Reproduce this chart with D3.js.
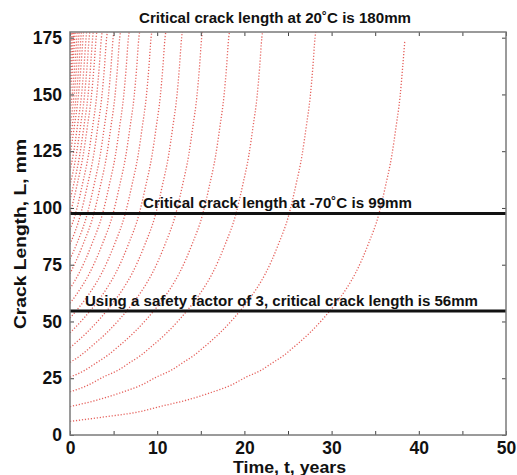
<!DOCTYPE html>
<html lang="en">
<head>
<meta charset="UTF-8">
<title>Crack growth</title>
<script src="https://cdnjs.cloudflare.com/ajax/libs/d3/7.8.5/d3.min.js"></script>
<style>
  body { margin: 0; background: #fff; }
  svg text { font-family: "Liberation Sans", Arial, sans-serif; font-weight: bold; fill: #111; }
</style>
</head>
<body>
<svg width="517" height="475"></svg>
<script>
// crack length (mm) vs time (years), one list of [t, L] per initial crack size
const crackCurves = [
  [[0,6],[4,8],[8,10.3],[10.3,12.5],[13.5,15.5],[16.4,19],[18.5,22],[20.2,25.5],[21.9,28.5],[23.3,32],[24.5,35],[25.6,38.5],[27.5,45],[29.1,51.5],[30.5,58],[31.7,64.5],[32.7,71],[34.2,84],[35.4,97],[36.2,110],[36.9,123],[37.4,136],[37.85,149],[38.15,162],[38.4,174]],
  [[0,12.5],[3.2,15.5],[6.1,19],[8.2,22],[9.9,25.5],[11.6,28.5],[13,32],[14.2,35],[15.3,38.5],[17.2,45],[18.8,51.5],[20.2,58],[21.4,64.5],[22.4,71],[23.9,84],[25.1,97],[25.9,110],[26.6,123],[27.1,136],[27.55,149],[27.85,162],[28.1,175],[28.2,178]],
  [[0,19],[2.1,22],[3.8,25.5],[5.5,28.5],[6.9,32],[8.1,35],[9.2,38.5],[11.1,45],[12.7,51.5],[14.1,58],[15.3,64.5],[16.3,71],[17.8,84],[19,97],[19.8,110],[20.5,123],[21,136],[21.45,149],[21.75,162],[22,175],[22.1,178]],
  [[0,25.5],[1.7,28.5],[3.1,32],[4.3,35],[5.4,38.5],[7.3,45],[8.9,51.5],[10.3,58],[11.5,64.5],[12.5,71],[14,84],[15.2,97],[16,110],[16.7,123],[17.2,136],[17.65,149],[17.95,162],[18.2,175],[18.3,178]],
  [[0,32],[1.2,35],[2.3,38.5],[4.2,45],[5.8,51.5],[7.2,58],[8.4,64.5],[9.4,71],[10.9,84],[12.1,97],[12.9,110],[13.6,123],[14.1,136],[14.55,149],[14.85,162],[15.1,175],[15.2,178]],
  [[0,38.5],[1.9,45],[3.5,51.5],[4.9,58],[6.1,64.5],[7.1,71],[8.6,84],[9.8,97],[10.6,110],[11.3,123],[11.8,136],[12.25,149],[12.55,162],[12.8,175],[12.9,178]],
  [[0,45],[1.6,51.5],[3,58],[4.2,64.5],[5.2,71],[6.7,84],[7.9,97],[8.7,110],[9.4,123],[9.9,136],[10.35,149],[10.65,162],[10.9,175],[11,178]],
  [[0,51.5],[1.4,58],[2.6,64.5],[3.6,71],[5.1,84],[6.3,97],[7.1,110],[7.8,123],[8.3,136],[8.75,149],[9.05,162],[9.3,175],[9.4,178]],
  [[0,58],[1.2,64.5],[2.2,71],[3.7,84],[4.9,97],[5.7,110],[6.4,123],[6.9,136],[7.35,149],[7.65,162],[7.9,175],[8,178]],
  [[0,64.5],[1,71],[2.5,84],[3.7,97],[4.5,110],[5.2,123],[5.7,136],[6.15,149],[6.45,162],[6.7,175],[6.8,178]],
  [[0,71],[1.5,84],[2.7,97],[3.5,110],[4.2,123],[4.7,136],[5.15,149],[5.45,162],[5.7,175],[5.8,178]],
  [[0,77.5],[0.75,84],[1.95,97],[2.75,110],[3.45,123],[3.95,136],[4.4,149],[4.7,162],[4.95,175],[5.05,178]],
  [[0,84],[1.2,97],[2,110],[2.7,123],[3.2,136],[3.65,149],[3.95,162],[4.2,175],[4.3,178]],
  [[0,90.5],[0.6,97],[1.4,110],[2.1,123],[2.6,136],[3.05,149],[3.35,162],[3.6,175],[3.7,178]],
  [[0,97],[0.8,110],[1.5,123],[2,136],[2.45,149],[2.75,162],[3,175],[3.08,178]],
  [[0,103.5],[0.4,110],[1.1,123],[1.6,136],[2.05,149],[2.35,162],[2.6,175],[2.68,178]],
  [[0,110],[0.7,123],[1.2,136],[1.65,149],[1.95,162],[2.2,175],[2.28,178]],
  [[0,116.5],[0.35,123],[0.85,136],[1.3,149],[1.6,162],[1.85,175],[1.92,178]],
  [[0,123],[0.5,136],[0.95,149],[1.25,162],[1.5,175],[1.57,178]],
  [[0,129.5],[0.25,136],[0.7,149],[1,162],[1.25,175],[1.31,178]],
  [[0,136],[0.45,149],[0.75,162],[1,175],[1.06,178]],
  [[0,142.5],[0.23,149],[0.53,162],[0.78,175],[0.84,178]],
  [[0,149],[0.3,162],[0.55,175],[0.6,178]],
  [[0,155.5],[0.15,162],[0.4,175],[0.45,178]],
  [[0,162],[0.25,175],[0.3,178]],
  [[0,168.5],[0.12,175],[0.17,178]]
];

// horizontal critical-length lines, read where they sit on the y axis
const limitLevels = [97.6, 54.6];
const limitLabels = [
  "Critical crack length at -70˚C is 99mm",
  "Using a safety factor of 3, critical crack length is 56mm"
];
const xTicks = [0, 5, 10, 15, 20, 25, 30, 35, 40, 45, 50];
const yTicks = [0, 25, 50, 75, 100, 125, 150, 175];
const chartTitle = "Critical crack length at 20˚C is 180mm";

const pLeft = 70, pRight = 506, pTop = 32, pBottom = 435;
const x = d3.scaleLinear().domain([0, 50]).range([pLeft, pRight]);
const y = d3.scaleLinear().domain([0, 177.5]).range([pBottom, pTop]);

const svg = d3.select('svg');
svg.append('rect').attr('width', 517).attr('height', 475).attr('fill', '#fff');

svg.append('clipPath').attr('id', 'plot')
  .append('rect').attr('x', pLeft).attr('y', pTop)
  .attr('width', pRight - pLeft).attr('height', pBottom - pTop);

const line = d3.line()
  .x(d => x(d[0]))
  .y(d => y(d[1]))
  .curve(d3.curveMonotoneX);

svg.append('g').attr('clip-path', 'url(#plot)')
  .selectAll('path')
  .data(crackCurves)
  .join('path')
  .attr('d', line)
  .attr('fill', 'none')
  .attr('stroke', '#e0453f')
  .attr('stroke-width', 1.3)
  .attr('stroke-dasharray', '1.2 1.8')
  .attr('opacity', 0.85);

// critical length lines
svg.selectAll('line.limit')
  .data(limitLevels)
  .join('line')
  .attr('class', 'limit')
  .attr('x1', pLeft).attr('x2', pRight)
  .attr('y1', d => y(d)).attr('y2', d => y(d))
  .attr('stroke', '#111')
  .attr('stroke-width', 3);

// label text widths stretched to the reference widths
svg.selectAll('text.limit')
  .data(limitLevels)
  .join('text')
  .attr('class', 'limit')
  .attr('x', (d, i) => i == 0 ? 143 : 85)
  .attr('y', d => y(d) - 5)
  .attr('textLength', (d, i) => i == 0 ? 269 : 393)
  .attr('lengthAdjust', 'spacingAndGlyphs')
  .style('font-size', '14.5px')
  .text((d, i) => limitLabels[i]);

// axes, ticks point inwards
const axisColor = '#7a7a7a';
const gx = svg.append('g').attr('transform', `translate(0,${pBottom})`)
  .call(d3.axisBottom(x).tickValues(xTicks).tickSize(-4).tickPadding(7)
    .tickFormat(d => d % 10 == 0 ? d : ''));
const gxTop = svg.append('g').attr('transform', `translate(0,${pTop})`)
  .call(d3.axisTop(x).tickValues(xTicks).tickSize(-4).tickFormat(''));
const gy = svg.append('g').attr('transform', `translate(${pLeft},0)`)
  .call(d3.axisLeft(y).tickValues(yTicks).tickSize(-4).tickPadding(8));
const gyRight = svg.append('g').attr('transform', `translate(${pRight},0)`)
  .call(d3.axisRight(y).tickValues(yTicks).tickSize(-4).tickFormat(''));

[gx, gxTop, gy, gyRight].forEach(g => {
  g.select('.domain').remove();
  g.selectAll('.tick line').attr('stroke', '#444');
  g.selectAll('.tick text').style('font-size', '17.5px').attr('fill', '#111');
});

svg.append('rect')
  .attr('x', pLeft).attr('y', pTop)
  .attr('width', pRight - pLeft).attr('height', pBottom - pTop)
  .attr('fill', 'none')
  .attr('stroke', axisColor)
  .attr('stroke-width', 1.5);

svg.append('text')
  .attr('x', 139).attr('y', 23)
  .attr('textLength', 272)
  .attr('lengthAdjust', 'spacingAndGlyphs')
  .style('font-size', '14px')
  .text(chartTitle);

svg.append('text')
  .attr('x', 233).attr('y', 473)
  .attr('textLength', 113)
  .attr('lengthAdjust', 'spacingAndGlyphs')
  .style('font-size', '16px')
  .text('Time, t, years');

svg.append('text')
  .attr('transform', 'translate(26,329) rotate(-90)')
  .attr('textLength', 190)
  .attr('lengthAdjust', 'spacingAndGlyphs')
  .style('font-size', '16px')
  .text('Crack Length, L, mm');
</script>
</body>
</html>
